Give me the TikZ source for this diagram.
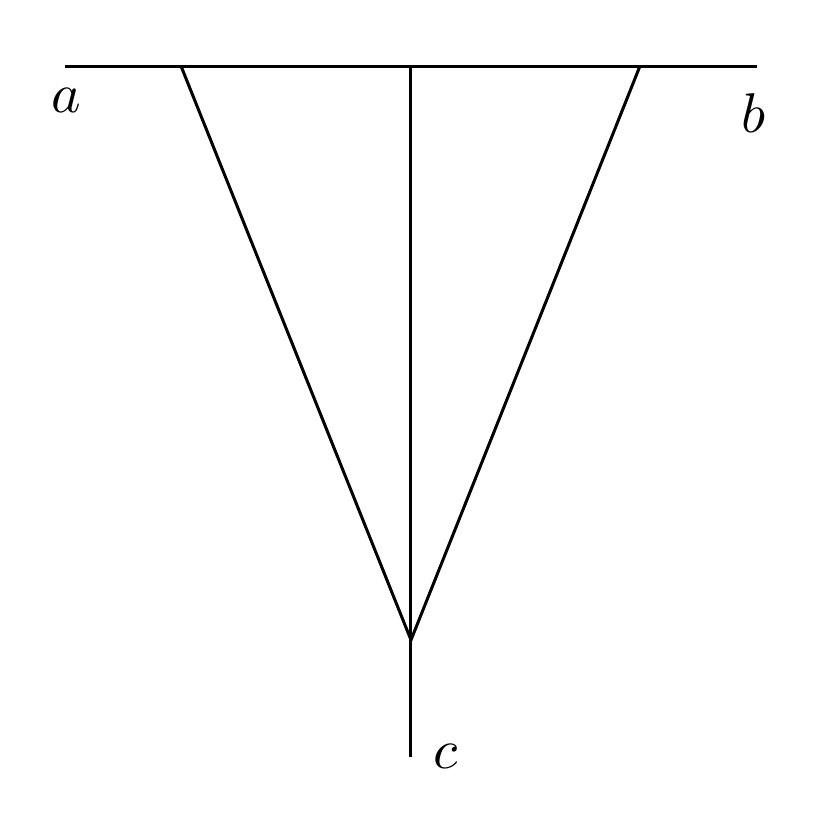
\documentclass[tikz,border=0pt]{standalone}
\begin{document}
\begin{tikzpicture}[x=0.2pt,y=-0.2pt,line width=0.6pt,lbl/.style={inner sep=0pt,scale=1.12}]
\useasboundingbox (0,0) rectangle (830,830);
\coordinate (L) at (65,66);
\coordinate (R) at (757,66);
\coordinate (A) at (181,66);
\coordinate (M) at (411,66);
\coordinate (B) at (640,66);
\coordinate (V) at (411,640);
\coordinate (C) at (411,757);
\draw (L) -- (R);
\draw (A) -- (V) -- (B);
\draw (M) -- (C);
\node[lbl] (la) at (66,100) {$a$};
\node[lbl] (lb) at (754,113) {$b$};
\node[lbl] (lc) at (446,756) {$c$};
\end{tikzpicture}
\end{document}
